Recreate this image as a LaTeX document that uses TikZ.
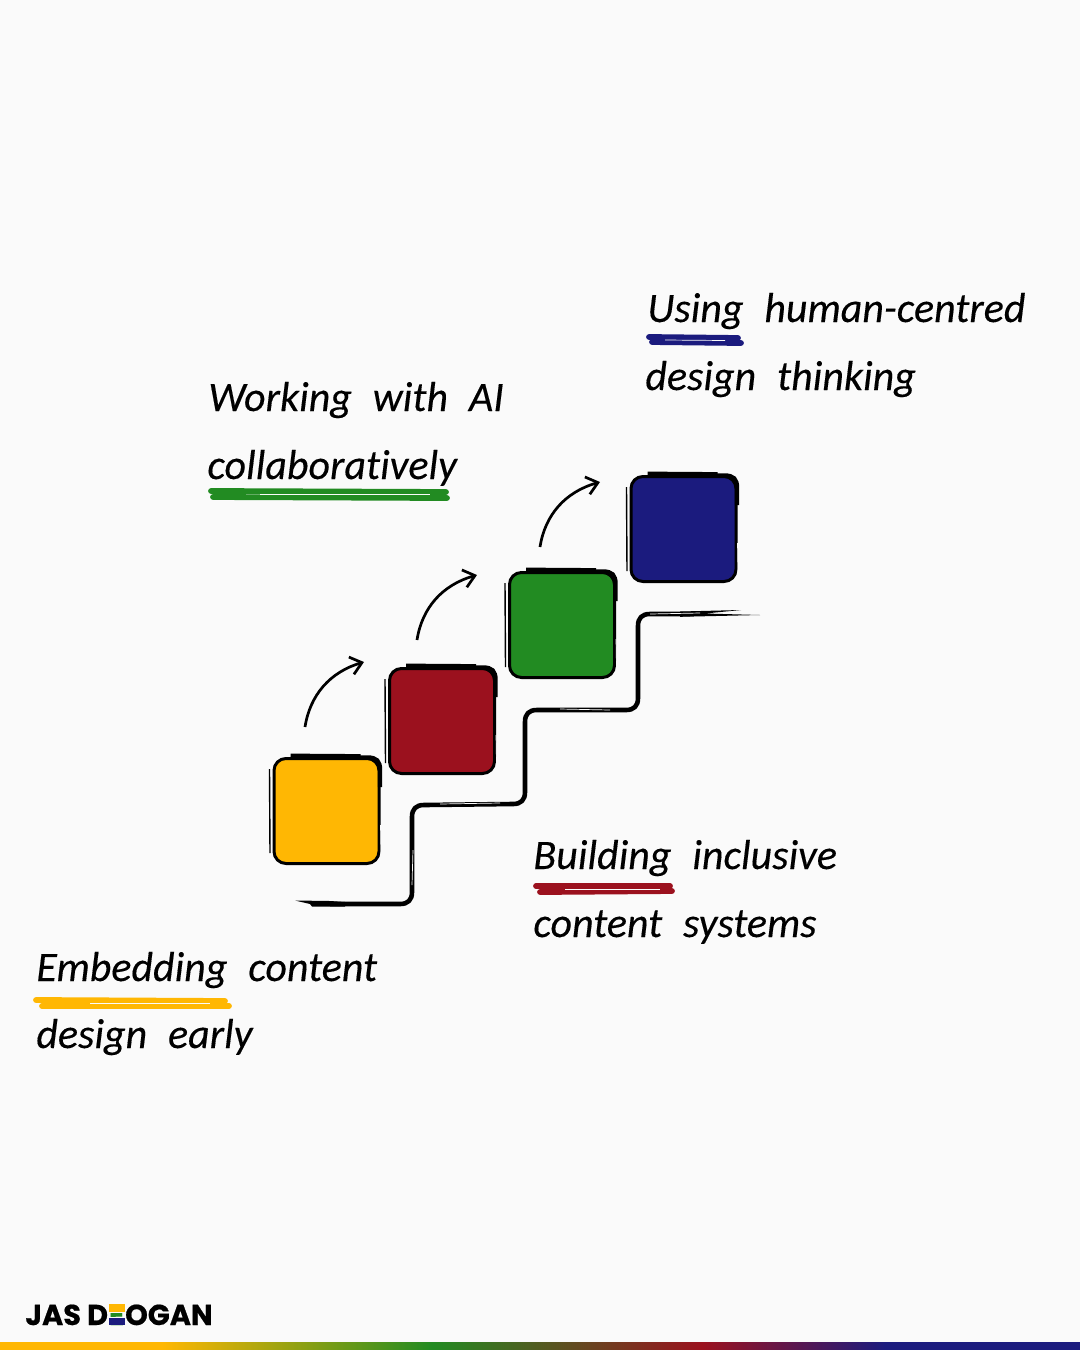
\documentclass[tikz,border=0pt]{standalone}
\usepackage{fontspec}
\usepackage{xcolor}
\usetikzlibrary{arrows.meta,calc,positioning}
\setmainfont[Ligatures=NoCommon,WordSpace=2.2,ItalicFeatures={FakeBold=0.25}]{Carlito}
\newfontfamily\logofont[BoldFeatures={FakeBold=0.6}]{Poppins}
\definecolor{paperGrey}{HTML}{FAFAFA}
\definecolor{stepYellow}{HTML}{FFB703}
\definecolor{stepRed}{HTML}{9B111E}
\definecolor{stepGreen}{HTML}{228B22}
\definecolor{stepNavy}{HTML}{1B1B7E}
\pgfdeclarehorizontalshading{ribbonShade}{100bp}{%
  color(0bp)=(stepYellow); color(32.5bp)=(stepYellow); color(45bp)=(stepGreen);
  color(57.5bp)=(stepRed); color(66bp)=(stepNavy); color(100bp)=(stepNavy)}
\tikzset{
  stepbox/.style={draw=black,line width=1.5pt,rounded corners=6pt,minimum size=52.5pt,inner sep=0pt},
  label/.style={anchor=base west,inner sep=0pt,font=\fontsize{21}{26}\selectfont\itshape},
  brush/.style={line width=2.9pt,line cap=round},
  scratch/.style={paperGrey,line width=0.35pt},
  logo/.style={inner sep=0pt,font=\logofont\fontsize{14.4}{16}\selectfont\bfseries}
}
\begin{document}
\begin{tikzpicture}[x=0.5pt,y=-0.5pt,>={Straight Barb[length=5.5pt,width=9pt]}]
    \useasboundingbox (0,0) rectangle (1080,1350);
    \fill[paperGrey] (0,0) rectangle (1080,1350);
    % colour ribbon at the foot
    \shade[shading=ribbonShade] (0,1342) rectangle (1080,1350);
    % steps
    \node[stepbox,fill=stepYellow] (boxYellow) at (326.5,811) {};
    \node[stepbox,fill=stepRed] (boxRed) at (442,721) {};
    \node[stepbox,fill=stepGreen] (boxGreen) at (562,625) {};
    \node[stepbox,fill=stepNavy] (boxNavy) at (683.5,529) {};
    \foreach \b in {boxYellow,boxRed,boxGreen,boxNavy} {
      \draw[line width=2.9pt] ($(\b.north west)+(18,-0.5)$)--($(\b.north east)+(-20,0)$);
      \draw[line width=2.2pt] ($(\b.north east)+(-22,0.5)$)--($(\b.north east)+(-13,0.5)$)
        .. controls ($(\b.north east)+(-4,0.5)$) and ($(\b.north east)+(-0.5,4)$) .. ($(\b.north east)+(-0.5,13)$)--($(\b.north east)+(-0.5,30)$);
      \draw[line width=0.7pt] ($(\b.north west)+(-3,12)$)--($(\b.south west)+(-2.5,-12)$);
      \draw[scratch,line width=0.4pt] ($(\b.north west)+(-1,14)$)--($(\b.south west)+(-1,-14)$);
      \draw[scratch] ($(\b.south east)+(0,-40)$)--($(\b.south east)+(0.5,-12)$);
    }
    % arrows between the steps
    \coordinate (arrowA) at (305,727);
    \coordinate (arrowB) at (364,662);
    \coordinate (arrowC) at (417,640);
    \coordinate (arrowD) at (477,575);
    \coordinate (arrowE) at (540,547);
    \coordinate (arrowF) at (600,482);
    \draw[->,line width=1.35pt] (arrowA) .. controls (310,695) and (330,672) .. (arrowB);
    \draw[->,line width=1.35pt] (arrowC) .. controls (422,608) and (442,585) .. (arrowD);
    \draw[->,line width=1.35pt] (arrowE) .. controls (545,515) and (565,492) .. (arrowF);
    % staircase line
    \draw[line width=2.3pt,line join=round] (330,904)--(400,904) .. controls (408,904) and (412,900) .. (412,892)
      --(412,817) .. controls (412,809) and (416,805) .. (424,805)
      --(513,804) .. controls (521,804) and (525,800) .. (525,792)
      --(525,722) .. controls (525,714) and (529,710) .. (537,710)
      --(626,710) .. controls (634,710) and (638,706) .. (638,698)
      --(638,626) .. controls (638,618) and (642,614) .. (650,614)
      --(690,614);
    \fill (295,900.5)--(330,901)--(345,902)--(345,906.5)--(312,906.5)--(310,904)--cycle;
    \fill (680,611.5)--(741,610)--(705,613.5)--(760,615)--(680,616.8)--cycle;
    \draw[scratch] (413,850)--(412,885);
    \draw[scratch] (440,804)--(500,803);
    \draw[scratch] (560,709)--(610,710);
    \draw[scratch] (650,614)--(700,613);
    % labels
    \node[label] (textYellowA) at (36,981) {Embedding content};
    \node[label] (textYellowB) at (36,1048) {design early};
    \node[label] (textGreenA) at (208,411) {Working with AI};
    \node[label] (textGreenB) at (207,479) {collaboratively};
    \node[label] (textNavyA) at (647,322) {Using human-centred};
    \node[label] (textNavyB) at (645,390) {design thinking};
    \node[label] (textRedA) at (533,869) {Building inclusive};
    \node[label] (textRedB) at (533,937) {content systems};
    % brush underlines
    \draw[brush,stepYellow] (36,1000)--(225,1001);
    \draw[brush,stepYellow] (42,1006)--(229,1006);
    \draw[scratch] (90,1003.5)--(210,1003.5);
    \draw[brush,stepGreen] (211,491)--(446,492);
    \draw[brush,stepGreen] (213,497)--(447,498);
    \draw[scratch] (260,494.5)--(430,494.5);
    \draw[brush,stepNavy] (649,337)--(738,338);
    \draw[brush,stepNavy] (652,342)--(741,343);
    \draw[scratch] (665,340)--(725,340.5);
    \draw[brush,stepRed] (536,886)--(670,886);
    \draw[brush,stepRed] (540,892)--(672,891);
    \draw[scratch] (565,889)--(660,889);
    % logo
    \node[logo,anchor=base west] (logoLeft) at (25,1325) {JAS D};
    \node[logo,anchor=base west,text=stepGreen] (logoMid) at (logoLeft.base east) {E};
    \node[logo,anchor=base west] (logoRight) at (logoMid.base east) {OGAN};
    \fill[stepYellow] ($(logoMid.base west)+(1,-21)$) rectangle ($(logoMid.base east)+(0,-13.5)$);
    \fill[paperGrey] ($(logoMid.base west)+(1,-13.5)$) rectangle ($(logoMid.base east)+(0,-12.7)$);
    \fill[paperGrey] ($(logoMid.base west)+(1,-7.7)$) rectangle ($(logoMid.base east)+(0,-6.8)$);
    \fill[stepNavy] ($(logoMid.base west)+(1,-6.8)$) rectangle ($(logoMid.base east)+(0,0)$);
  \end{tikzpicture}
\end{document}
